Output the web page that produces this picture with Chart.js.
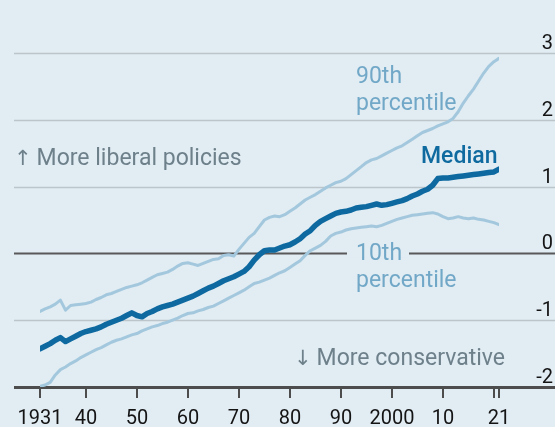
<!DOCTYPE html>
<html>
<head>
<meta charset="utf-8">
<script src="https://cdn.jsdelivr.net/npm/chart.js@4"></script>
<style>
  html, body { margin: 0; padding: 0; background: #e1ecf3; }
  canvas { display: block; }
</style>
</head>
<body>
<canvas id="chart" width="555" height="427"></canvas>
<script>
// Policy ideology scores, 1931-2021

const years = [
  1931, 1932, 1933, 1934, 1935, 1936, 1937, 1938, 1939, 1940,
  1941, 1942, 1943, 1944, 1945, 1946, 1947, 1948, 1949, 1950,
  1951, 1952, 1953, 1954, 1955, 1956, 1957, 1958, 1959, 1960,
  1961, 1962, 1963, 1964, 1965, 1966, 1967, 1968, 1969, 1970,
  1971, 1972, 1973, 1974, 1975, 1976, 1977, 1978, 1979, 1980,
  1981, 1982, 1983, 1984, 1985, 1986, 1987, 1988, 1989, 1990,
  1991, 1992, 1993, 1994, 1995, 1996, 1997, 1998, 1999, 2000,
  2001, 2002, 2003, 2004, 2005, 2006, 2007, 2008, 2009, 2010,
  2011, 2012, 2013, 2014, 2015, 2016, 2017, 2018, 2019, 2020,
  2021
];

const median = [
  -1.43, -1.39, -1.35, -1.30, -1.26, -1.32, -1.28, -1.24, -1.20, -1.17,
  -1.15, -1.13, -1.10, -1.06, -1.03, -1.00, -0.97, -0.93, -0.89, -0.93,
  -0.95, -0.90, -0.87, -0.83, -0.80, -0.78, -0.76, -0.73, -0.70, -0.67,
  -0.64, -0.60, -0.56, -0.52, -0.49, -0.45, -0.41, -0.38, -0.35, -0.31,
  -0.27, -0.20, -0.10, -0.02, 0.04, 0.05, 0.05, 0.08, 0.11, 0.13,
  0.17, 0.22, 0.29, 0.34, 0.42, 0.48, 0.52, 0.56, 0.60, 0.62,
  0.63, 0.65, 0.68, 0.69, 0.70, 0.72, 0.74, 0.72, 0.73, 0.75,
  0.77, 0.79, 0.82, 0.86, 0.89, 0.93, 0.96, 1.02, 1.12, 1.13,
  1.13, 1.14, 1.15, 1.16, 1.17, 1.18, 1.19, 1.20, 1.21, 1.22,
  1.26
];

const pct90 = [
  -0.87, -0.83, -0.80, -0.76, -0.70, -0.85, -0.78, -0.77, -0.76, -0.75,
  -0.73, -0.69, -0.66, -0.62, -0.60, -0.57, -0.54, -0.51, -0.49, -0.47,
  -0.44, -0.40, -0.36, -0.32, -0.30, -0.28, -0.24, -0.19, -0.15, -0.14,
  -0.16, -0.18, -0.15, -0.12, -0.09, -0.08, -0.03, -0.02, -0.04, 0.06,
  0.15, 0.24, 0.30, 0.40, 0.50, 0.54, 0.56, 0.55, 0.58, 0.63,
  0.68, 0.74, 0.80, 0.84, 0.88, 0.93, 0.98, 1.02, 1.06, 1.08,
  1.12, 1.18, 1.24, 1.30, 1.36, 1.40, 1.42, 1.46, 1.50, 1.54,
  1.58, 1.61, 1.66, 1.71, 1.76, 1.81, 1.84, 1.87, 1.91, 1.94,
  1.97, 2.02, 2.12, 2.25, 2.36, 2.46, 2.58, 2.70, 2.80, 2.87,
  2.92
];

const pct10 = [
  -1.99, -1.97, -1.93, -1.82, -1.74, -1.70, -1.65, -1.61, -1.56, -1.52,
  -1.48, -1.44, -1.41, -1.37, -1.33, -1.30, -1.28, -1.25, -1.22, -1.20,
  -1.16, -1.13, -1.10, -1.08, -1.05, -1.03, -1.00, -0.97, -0.93, -0.90,
  -0.89, -0.86, -0.84, -0.81, -0.79, -0.75, -0.71, -0.67, -0.63, -0.59,
  -0.55, -0.50, -0.45, -0.43, -0.40, -0.37, -0.33, -0.29, -0.26, -0.21,
  -0.16, -0.11, -0.03, 0.04, 0.08, 0.12, 0.18, 0.26, 0.30, 0.32,
  0.35, 0.37, 0.38, 0.39, 0.40, 0.41, 0.40, 0.42, 0.45, 0.48,
  0.51, 0.53, 0.55, 0.57, 0.58, 0.59, 0.60, 0.61, 0.59, 0.55,
  0.52, 0.53, 0.55, 0.53, 0.52, 0.53, 0.51, 0.50, 0.48, 0.46,
  0.43
];

const yTicks = [3, 2, 1, 0, -1, -2];
const yTickLabels = ['3', '2', '1', '0', '-1', '-2'];
const xTicks = [1931, 1940, 1950, 1960, 1970, 1980, 1990, 2000, 2010, 2020, 2021];
const xTickLabels = ['1931', '40', '50', '60', '70', '80', '90', '2000', '10', '', '21'];

const BG = '#e1ecf3';
const FONT = 'Roboto, "Noto Sans", sans-serif';

function toPoints(values) {
    return years.map((yr, i) => ({ x: yr, y: values[i] }));
}

// arrow glyph in a font that has it, then the words
function arrowText(ctx, arrow, text, x, y) {
    ctx.font = '21px "DejaVu Sans"';
    ctx.fillText(arrow, x, y);
    const w = ctx.measureText(arrow).width;
    ctx.font = '23px ' + FONT;
    ctx.fillText(text, x + w + 5, y);
}

// background, gridlines, axis ticks and labels
const decorPlugin = {
    id: 'decor',
    beforeDraw(chart) {
        const ctx = chart.ctx;
        ctx.save();
        ctx.fillStyle = BG;
        ctx.fillRect(0, 0, chart.width, chart.height);
        ctx.restore();
    },
    beforeDatasetsDraw(chart) {
        const ctx = chart.ctx;
        const xs = chart.scales.x;
        const ys = chart.scales.y;
        ctx.save();

        yTicks.forEach((v, i) => {
            const py = Math.round(ys.getPixelForValue(v)) + 0.5;
            ctx.beginPath();
            if (v === 0) {
                ctx.strokeStyle = '#595959';
                ctx.lineWidth = 2;
            } else if (v === -2) {
                ctx.strokeStyle = '#4d4d4d';
                ctx.lineWidth = 3;
            } else {
                ctx.strokeStyle = '#bcc5ca';
                ctx.lineWidth = 1.6;
            }
            ctx.moveTo(14, py);
            ctx.lineTo(chart.width, py);
            ctx.stroke();

            ctx.fillStyle = '#141414';
            ctx.font = '20px ' + FONT;
            ctx.textAlign = 'right';
            ctx.textBaseline = 'alphabetic';
            ctx.fillText(yTickLabels[i], 553, py - 5);
        });

        // gap in the zero line behind the "10th" label
        const zeroY = ys.getPixelForValue(0);
        ctx.fillStyle = BG;
        ctx.fillRect(347, zeroY - 4, 62, 8);

        // x ticks
        const baseY = ys.getPixelForValue(-2);
        ctx.strokeStyle = '#4d4d4d';
        ctx.lineWidth = 2;
        xTicks.forEach((yr, i) => {
            const px = Math.round(xs.getPixelForValue(yr));
            ctx.beginPath();
            ctx.moveTo(px, baseY);
            ctx.lineTo(px, baseY + 11);
            ctx.stroke();
            if (xTickLabels[i]) {
                ctx.fillStyle = '#141414';
                ctx.font = '20px ' + FONT;
                ctx.textAlign = 'center';
                ctx.textBaseline = 'alphabetic';
                ctx.fillText(xTickLabels[i], px, 424);
            }
        });
        ctx.restore();
    },
    afterDraw(chart) {
        const ctx = chart.ctx;
        ctx.save();
        ctx.textAlign = 'left';
        ctx.textBaseline = 'alphabetic';

        ctx.fillStyle = '#6e818b';
        arrowText(ctx, '\u2191', 'More liberal policies', 14, 165);
        arrowText(ctx, '\u2193', 'More conservative', 294, 365);

        ctx.font = '23px ' + FONT;
        ctx.fillStyle = '#72a8c7';
        ctx.fillText('90th', 356, 83);
        ctx.fillText('percentile', 356, 110);
        ctx.fillText('10th', 356, 260);
        ctx.fillText('percentile', 356, 287);

        ctx.font = '500 23px ' + FONT;
        ctx.fillStyle = '#0f6a9f';
        ctx.fillText('Median', 421, 163);
        ctx.restore();
    }
};

const lineStyle = {
    pointRadius: 0,
    tension: 0,
    fill: false,
    borderCapStyle: 'round',
    borderJoinStyle: 'round'
};

new Chart(document.getElementById('chart').getContext('2d'), {
    type: 'line',
    data: {
        datasets: [
            Object.assign({ label: '90th percentile', data: toPoints(pct90), borderColor: '#a3c8dd', borderWidth: 3 }, lineStyle),
            Object.assign({ label: '10th percentile', data: toPoints(pct10), borderColor: '#a3c8dd', borderWidth: 3 }, lineStyle),
            Object.assign({ label: 'Median', data: toPoints(median), borderColor: '#0d69a0', borderWidth: 5.5 }, lineStyle)
        ]
    },
    options: {
        responsive: false,
        animation: false,
        devicePixelRatio: 1,
        layout: {
            padding: { left: 40, right: 56, top: 53, bottom: 40 }
        },
        plugins: {
            legend: { display: false },
            tooltip: { enabled: false }
        },
        scales: {
            x: { type: 'linear', min: 1931, max: 2021, display: false },
            y: { type: 'linear', min: -2, max: 3, display: false }
        }
    },
    plugins: [decorPlugin]
});
</script>
</body>
</html>
